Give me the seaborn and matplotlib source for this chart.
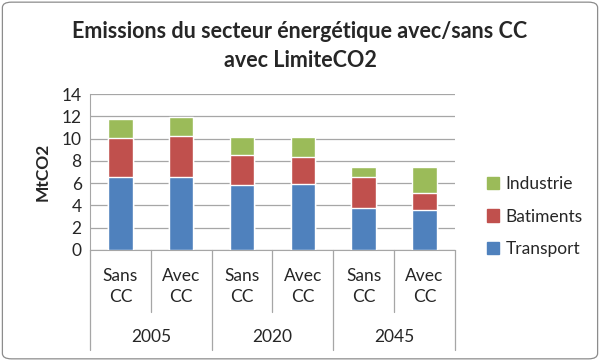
import pandas as pd
import matplotlib.pyplot as plt
import seaborn as sns
from matplotlib.patches import Patch, FancyBboxPatch

# Données
annees = ["2005", "2020", "2045"]
scenarios = ["Sans\nCC", "Avec\nCC"]
transport = [6.54, 6.54, 5.87, 5.96, 3.73, 3.61]
batiments = [3.55, 3.70, 2.65, 2.35, 2.81, 1.54]
industrie = [1.69, 1.72, 1.60, 1.81, 0.87, 2.26]

couleurs = {"Transport": "#4f81bd", "Batiments": "#c0504d", "Industrie": "#9bbb59"}

labels = [f"{a}-{s}" for a in annees for s in scenarios]
df = pd.DataFrame({
    "cat": labels,
    "Transport": transport,
    "Batiments": batiments,
    "Industrie": industrie,
})
df["cum_bat"] = df["Transport"] + df["Batiments"]
df["cum_ind"] = df["cum_bat"] + df["Industrie"]

sns.set_style("white")
plt.rcParams["font.family"] = ["Lato", "DejaVu Sans"]

fig = plt.figure(figsize=(6, 3.61), dpi=100)
ax = fig.add_axes([0.15, 0.3075, 0.608, 0.4321])

# barres empilées : on dessine les cumuls du plus haut au plus bas
sns.barplot(data=df, x="cat", y="cum_ind", color=couleurs["Industrie"], width=0.4,
            ax=ax, saturation=1, zorder=3)
sns.barplot(data=df, x="cat", y="cum_bat", color=couleurs["Batiments"], width=0.4,
            ax=ax, saturation=1, zorder=3)
sns.barplot(data=df, x="cat", y="Transport", color=couleurs["Transport"], width=0.4,
            ax=ax, saturation=1, zorder=3)

ax.set_xlim(-0.5, len(labels) - 0.5)
ax.set_ylim(0, 14)
ax.set_yticks(range(0, 15, 2))
ax.yaxis.grid(True, color="#a6a6a6", lw=0.9, zorder=0)
ax.set_axisbelow(True)
for s in ["top", "right"]:
    ax.spines[s].set_visible(False)
ax.spines["left"].set_color("#a6a6a6")
ax.spines["bottom"].set_color("#a6a6a6")
ax.tick_params(axis="y", labelsize=12.5, length=0, pad=6)
ax.set_xticks([])
ax.set_xlabel("")
ax.set_ylabel("MtCO2", fontsize=12.5, fontweight="bold", labelpad=8)

# axe des x à deux niveaux
trans = ax.get_xaxis_transform()
for i in range(len(labels) + 1):
    x = i - 0.5
    bas = -0.64 if i % 2 == 0 else -0.40
    ax.plot([x, x], [0, bas], transform=trans, color="#a6a6a6", lw=0.9, clip_on=False)
for i, lab in enumerate(labels):
    ax.text(i, -0.235, lab.split("-")[1], transform=trans, ha="center", va="center",
            fontsize=12.5, linespacing=1.4)
for j, a in enumerate(annees):
    ax.text(2 * j + 0.5, -0.56, a, transform=trans, ha="center", va="center", fontsize=12.5)

fig.text(0.5, 0.873, "Emissions du secteur énergétique avec/sans CC\navec LimiteCO2",
         ha="center", va="center", fontsize=15.5, fontweight="bold", linespacing=1.45)

handles = [Patch(color=couleurs[k]) for k in ["Industrie", "Batiments", "Transport"]]
fig.legend(handles, ["Industrie", "Batiments", "Transport"], loc="center left",
           bbox_to_anchor=(0.785, 0.40), frameon=False, fontsize=12.5,
           handlelength=0.7, handleheight=0.7, handletextpad=0.4, labelspacing=0.95)

fig.patches.append(FancyBboxPatch((0.004, 0.006), 0.992, 0.988,
                                  boxstyle="round,pad=0,rounding_size=0.015",
                                  transform=fig.transFigure, fill=False,
                                  edgecolor="#8c8c8c", lw=0.9))

fig.savefig("out.png", dpi=100)
